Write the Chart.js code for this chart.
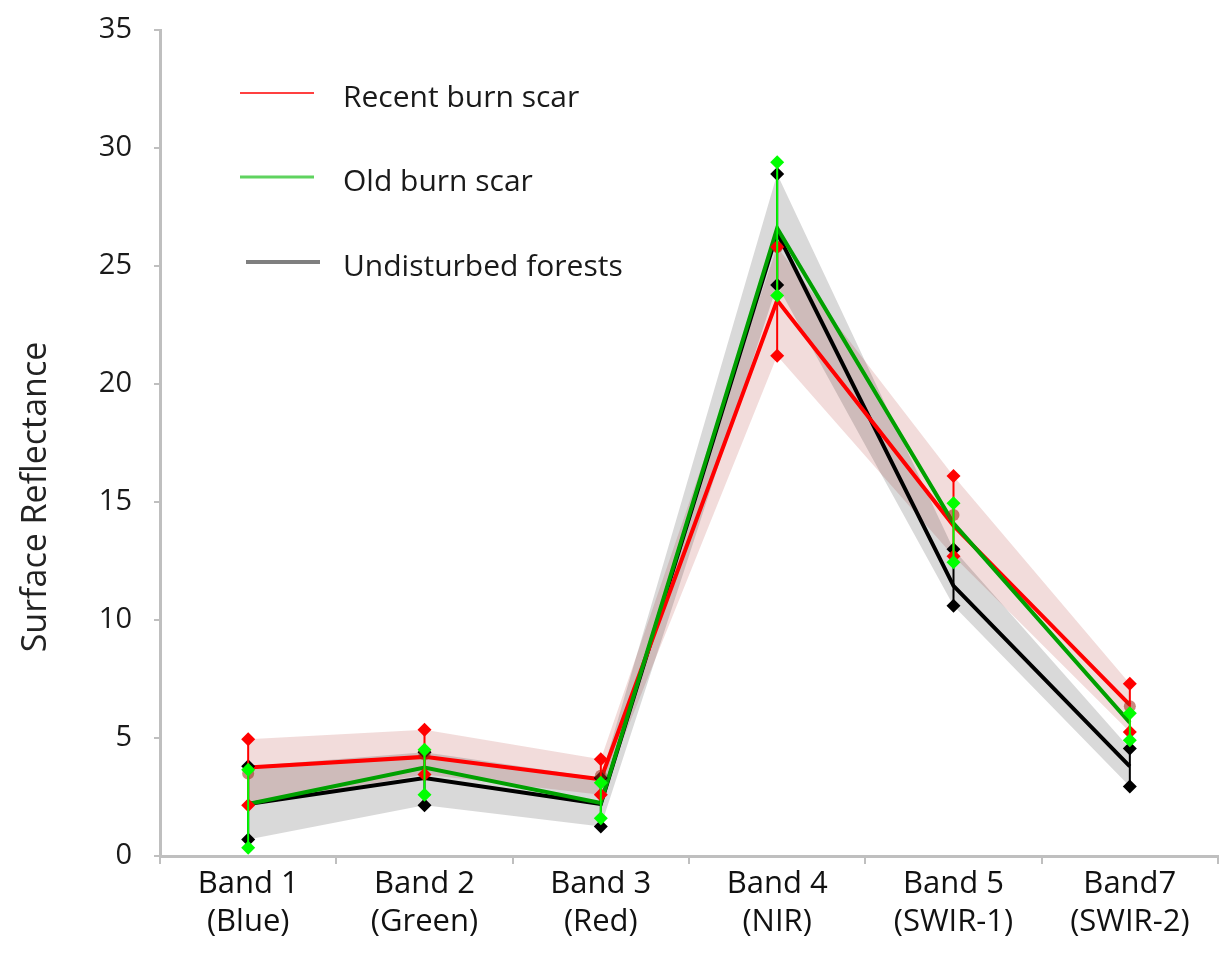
<!DOCTYPE html>
<html>
<head>
<meta charset="utf-8">
<script src="https://cdn.jsdelivr.net/npm/chart.js@4.4.1/dist/chart.umd.min.js"></script>
<style>
  html, body { margin: 0; padding: 0; background: #fff; }
  #wrap { width: 1225px; height: 967px; position: relative; }
</style>
</head>
<body>
<div id="wrap"><canvas id="c"></canvas></div>
<script>
const categories = [['Band 1', '(Blue)'], ['Band 2', '(Green)'], ['Band 3', '(Red)'], ['Band 4', '(NIR)'], ['Band 5', '(SWIR-1)'], ['Band7', '(SWIR-2)']];
const yTicks = [0, 5, 10, 15, 20, 25, 30, 35];
const seriesNames = ['Recent burn scar', 'Old burn scar', 'Undisturbed forests'];

const recentMean  = [3.75, 4.2, 3.25, 23.55, 14.0, 6.4];
const recentUpper = [4.95, 5.35, 4.1, 25.8, 16.1, 7.3];
const recentLower = [2.15, 3.45, 2.6, 21.2, 12.7, 5.25];
const recentMarks = [3.5, 4.3, 3.4, 25.8, 14.45, 6.35];

const oldMean  = [2.2, 3.75, 2.25, 26.6, 14.1, 5.65];
const oldUpper = [3.65, 4.5, 3.1, 29.4, 14.95, 6.05];
const oldLower = [0.35, 2.6, 1.6, 23.75, 12.45, 4.9];

const forestMean  = [2.2, 3.3, 2.2, 26.4, 11.45, 3.8];
const forestUpper = [3.8, 4.4, 3.3, 28.9, 13.0, 4.55];
const forestLower = [0.7, 2.15, 1.25, 24.2, 10.6, 2.95];

function errData(up, low) {
  const out = [];
  up.forEach((u, i) => {
    out.push({ x: categories[i], y: u });
    out.push({ x: categories[i], y: low[i] });
    out.push({ x: categories[i], y: null });
  });
  return out;
}

const FONT = '"Open Sans", "DejaVu Sans", sans-serif';

const shade = (data, color, fill, order) => ({
  data, borderWidth: 0, pointRadius: 0, fill, backgroundColor: color,
  borderColor: 'rgba(0,0,0,0)', tension: 0, order
});
const meanLine = (data, color, order) => ({
  data, borderColor: color, borderWidth: 4, pointRadius: 0, fill: false, tension: 0, order
});
const errLine = (up, low, color, order) => ({
  data: errData(up, low), borderColor: color, backgroundColor: color, borderWidth: 2,
  pointStyle: 'rectRot', pointRadius: 7, pointBorderWidth: 0, spanGaps: false, fill: false, order
});

const overlay = {
  id: 'overlay',
  afterDraw(chart) {
    const ctx = chart.ctx;
    ctx.save();
    ctx.fillStyle = '#222';
    ctx.font = '34px ' + FONT;
    ctx.translate(36, 497);
    ctx.rotate(-Math.PI / 2);
    ctx.textAlign = 'center';
    ctx.textBaseline = 'middle';
    ctx.fillText('Surface Reflectance', 0, 0);
    ctx.restore();

    const items = [
      { name: seriesNames[0], color: '#FF4040', width: 2, x0: 240, x1: 314, y: 93 },
      { name: seriesNames[1], color: '#5FD35F', width: 3, x0: 240, x1: 314, y: 177 },
      { name: seriesNames[2], color: '#7F7F7F', width: 4, x0: 246, x1: 320, y: 262 }
    ];
    ctx.save();
    ctx.font = '30px ' + FONT;
    ctx.textBaseline = 'middle';
    ctx.textAlign = 'left';
    items.forEach(it => {
      ctx.strokeStyle = it.color;
      ctx.lineWidth = it.width;
      ctx.beginPath();
      ctx.moveTo(it.x0, it.y);
      ctx.lineTo(it.x1, it.y);
      ctx.stroke();
      ctx.fillStyle = '#1a1a1a';
      ctx.fillText(it.name, 343, it.y + 5);
    });
    ctx.restore();
  }
};

new Chart(document.getElementById('c'), {
  type: 'line',
  data: {
    labels: categories,
    datasets: [
      shade(recentUpper, 'rgba(192,80,77,0.2)', '+1', 21),
      shade(recentLower, 'rgba(0,0,0,0)', false, 21),
      shade(forestUpper, 'rgba(0,0,0,0.15)', '+1', 20),
      shade(forestLower, 'rgba(0,0,0,0)', false, 20),
      meanLine(forestMean, '#000000', 10),
      meanLine(recentMean, '#FF0000', 9),
      meanLine(oldMean, '#00A000', 8),
      errLine(forestUpper, forestLower, '#000000', 6),
      {
        data: recentMarks, showLine: false, pointStyle: 'circle', pointRadius: 6,
        pointBackgroundColor: 'rgba(160,40,20,0.55)', pointBorderColor: 'rgba(160,40,20,0.55)',
        pointBorderWidth: 0, fill: false, order: 5
      },
      errLine(recentUpper, recentLower, '#FF0000', 4),
      errLine(oldUpper, oldLower, '#00FF00', 3)
    ]
  },
  options: {
    responsive: true,
    maintainAspectRatio: false,
    animation: false,
    events: [],
    layout: { padding: { top: 30, right: 7, left: 0, bottom: 0 } },
    plugins: { legend: { display: false }, tooltip: { enabled: false } },
    scales: {
      x: {
        type: 'category',
        offset: true,
        afterFit(scale) { scale.height = 111; scale.paddingLeft = 0; scale.paddingRight = 0; },
        grid: { display: true, offset: true, drawOnChartArea: false, drawTicks: true, tickLength: 8, color: '#BFBFBF', lineWidth: 2 },
        border: { display: true, color: '#BFBFBF', width: 3 },
        ticks: { font: { family: FONT, size: 31, lineHeight: 1.2 }, color: '#111', padding: 2, maxRotation: 0, autoSkip: false }
      },
      y: {
        min: 0, max: 35,
        afterFit(scale) { scale.width = 160; scale.paddingTop = 0; scale.paddingBottom = 0; },
        afterBuildTicks(scale) { scale.ticks = yTicks.map(v => ({ value: v })); },
        grid: { display: true, drawOnChartArea: false, drawTicks: true, tickLength: 6, color: '#BFBFBF', lineWidth: 2 },
        border: { display: true, color: '#BFBFBF', width: 3 },
        ticks: { font: { family: FONT, size: 29 }, color: '#1a1a1a', padding: 22 }
      }
    }
  },
  plugins: [overlay]
});
</script>
</body>
</html>
